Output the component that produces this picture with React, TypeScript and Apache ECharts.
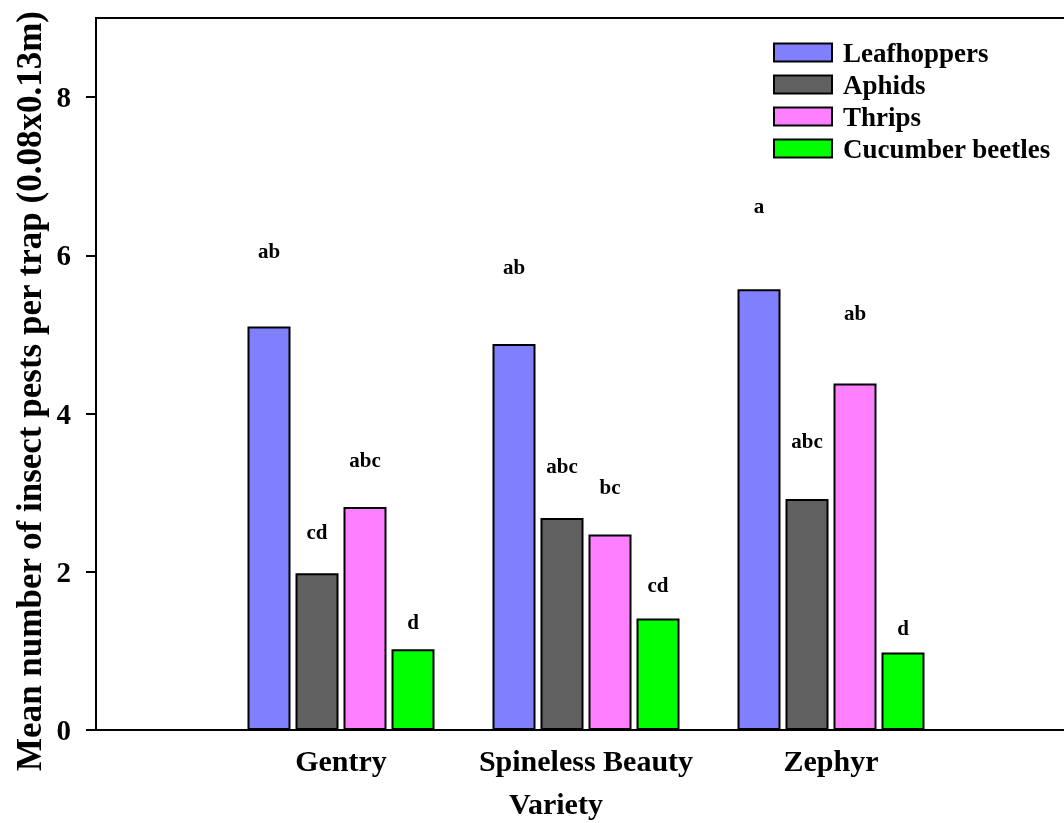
import React, { useEffect, useRef } from "react";
import * as echarts from "echarts";

const categories = ["Gentry", "Spineless Beauty", "Zephyr"];
const seriesNames = ["Leafhoppers", "Aphids", "Thrips", "Cucumber beetles"];
const leafhoppers = [5.1, 4.88, 5.57];
const aphids = [1.98, 2.68, 2.92];
const thrips = [2.82, 2.47, 4.38];
const beetles = [1.02, 1.41, 0.98];
// letter groupings and the height (mean pests) at which each letter sits
const leafLetters = ["ab", "ab", "a"];
const aphidLetters = ["cd", "abc", "abc"];
const thripLetters = ["abc", "bc", "ab"];
const beetleLetters = ["d", "cd", "d"];
const leafLetterY = [6.06, 5.85, 6.62];
const aphidLetterY = [2.5, 3.34, 3.65];
const thripLetterY = [3.41, 3.07, 5.27];
const beetleLetterY = [1.37, 1.83, 1.29];
const yTicks = [0, 2, 4, 6, 8];

const colors = ["#8080ff", "#606060", "#ff80ff", "#00ff00"];
const FONT = "'Liberation Serif', 'Times New Roman', serif";
const BAR_W = 43;
const BAR_STEP = 48;

export default function App() {
  const ref = useRef<HTMLDivElement>(null);
  useEffect(() => {
    if (!ref.current) return;
    const chart = echarts.init(ref.current, undefined, { renderer: "svg" });
    const values = [leafhoppers, aphids, thrips, beetles];
    const letters = [leafLetters, aphidLetters, thripLetters, beetleLetters];
    const letterY = [leafLetterY, aphidLetterY, thripLetterY, beetleLetterY];
    const series: any[] = [];
    values.forEach((vals, s) => {
      series.push({
        name: seriesNames[s],
        type: "bar",
        barWidth: BAR_W,
        barGap: ((BAR_STEP - BAR_W) / BAR_W) * 100 + "%",
        data: vals.map((v, i) => [i + 1, v]),
        itemStyle: { color: colors[s], borderColor: "#000", borderWidth: 2 },
      });
    });
    values.forEach((_vals, s) => {
      series.push({
        name: "letters" + s,
        type: "custom",
        silent: true,
        data: letterY[s].map((y, i) => [i + 1, y]),
        renderItem: (params: any, api: any) => {
          const p = api.coord([api.value(0), api.value(1)]);
          return {
            type: "text",
            x: p[0] + (s - 1.5) * BAR_STEP,
            y: p[1],
            style: {
              text: letters[s][params.dataIndex],
              font: `bold 21px ${FONT}`,
              fill: "#000",
              align: "center",
              verticalAlign: "middle",
            },
          };
        },
      });
    });
    chart.setOption({
      animation: false,
      grid: {
        left: 96,
        right: 4,
        top: 18,
        bottom: 93,
        show: true,
        borderColor: "#000",
        borderWidth: 2,
        backgroundColor: "transparent",
      },
      legend: {
        data: seriesNames,
        orient: "vertical",
        left: 768,
        top: 34,
        itemWidth: 58,
        itemHeight: 18,
        itemGap: 5,
        icon: "rect",
        itemStyle: { borderColor: "#000", borderWidth: 2 },
        textStyle: {
          fontFamily: FONT,
          fontWeight: "bold",
          fontSize: 27,
          color: "#000",
          padding: [0, 0, 0, 6],
        },
      },
      xAxis: {
        type: "value",
        min: 0,
        max: 4,
        interval: 1,
        splitLine: { show: false },
        axisTick: { show: false },
        axisLine: { lineStyle: { color: "#000", width: 2 } },
        axisLabel: {
          formatter: (v: number) => categories[v - 1] ?? "",
          fontFamily: FONT,
          fontWeight: "bold",
          fontSize: 30,
          color: "#000",
          margin: 15,
        },
      },
      yAxis: {
        type: "value",
        min: 0,
        max: 9,
        splitLine: { show: false },
        axisLine: { show: true, lineStyle: { color: "#000", width: 2 } },
        axisTick: {
          show: true,
          length: 10,
          lineStyle: { color: "#000", width: 2 },
          customValues: yTicks,
        },
        axisLabel: {
          customValues: yTicks,
          fontFamily: FONT,
          fontWeight: "bold",
          fontSize: 29,
          color: "#000",
          margin: 25,
        },
      },
      graphic: [
        {
          type: "text",
          x: 29,
          y: 391,
          rotation: Math.PI / 2,
          style: {
            text: "Mean number of insect pests per trap (0.08x0.13m)",
            font: `bold 35px ${FONT}`,
            fill: "#000",
            align: "center",
            verticalAlign: "middle",
          },
        },
        {
          type: "text",
          x: 556,
          y: 803,
          style: {
            text: "Variety",
            font: `bold 30px ${FONT}`,
            fill: "#000",
            align: "center",
            verticalAlign: "middle",
          },
        },
      ],
      series,
    });
    return () => chart.dispose();
  }, []);
  return (
    <div
      ref={ref}
      style={{ position: "fixed", left: 0, top: 0, width: 1080, height: 823 }}
    />
  );
}
